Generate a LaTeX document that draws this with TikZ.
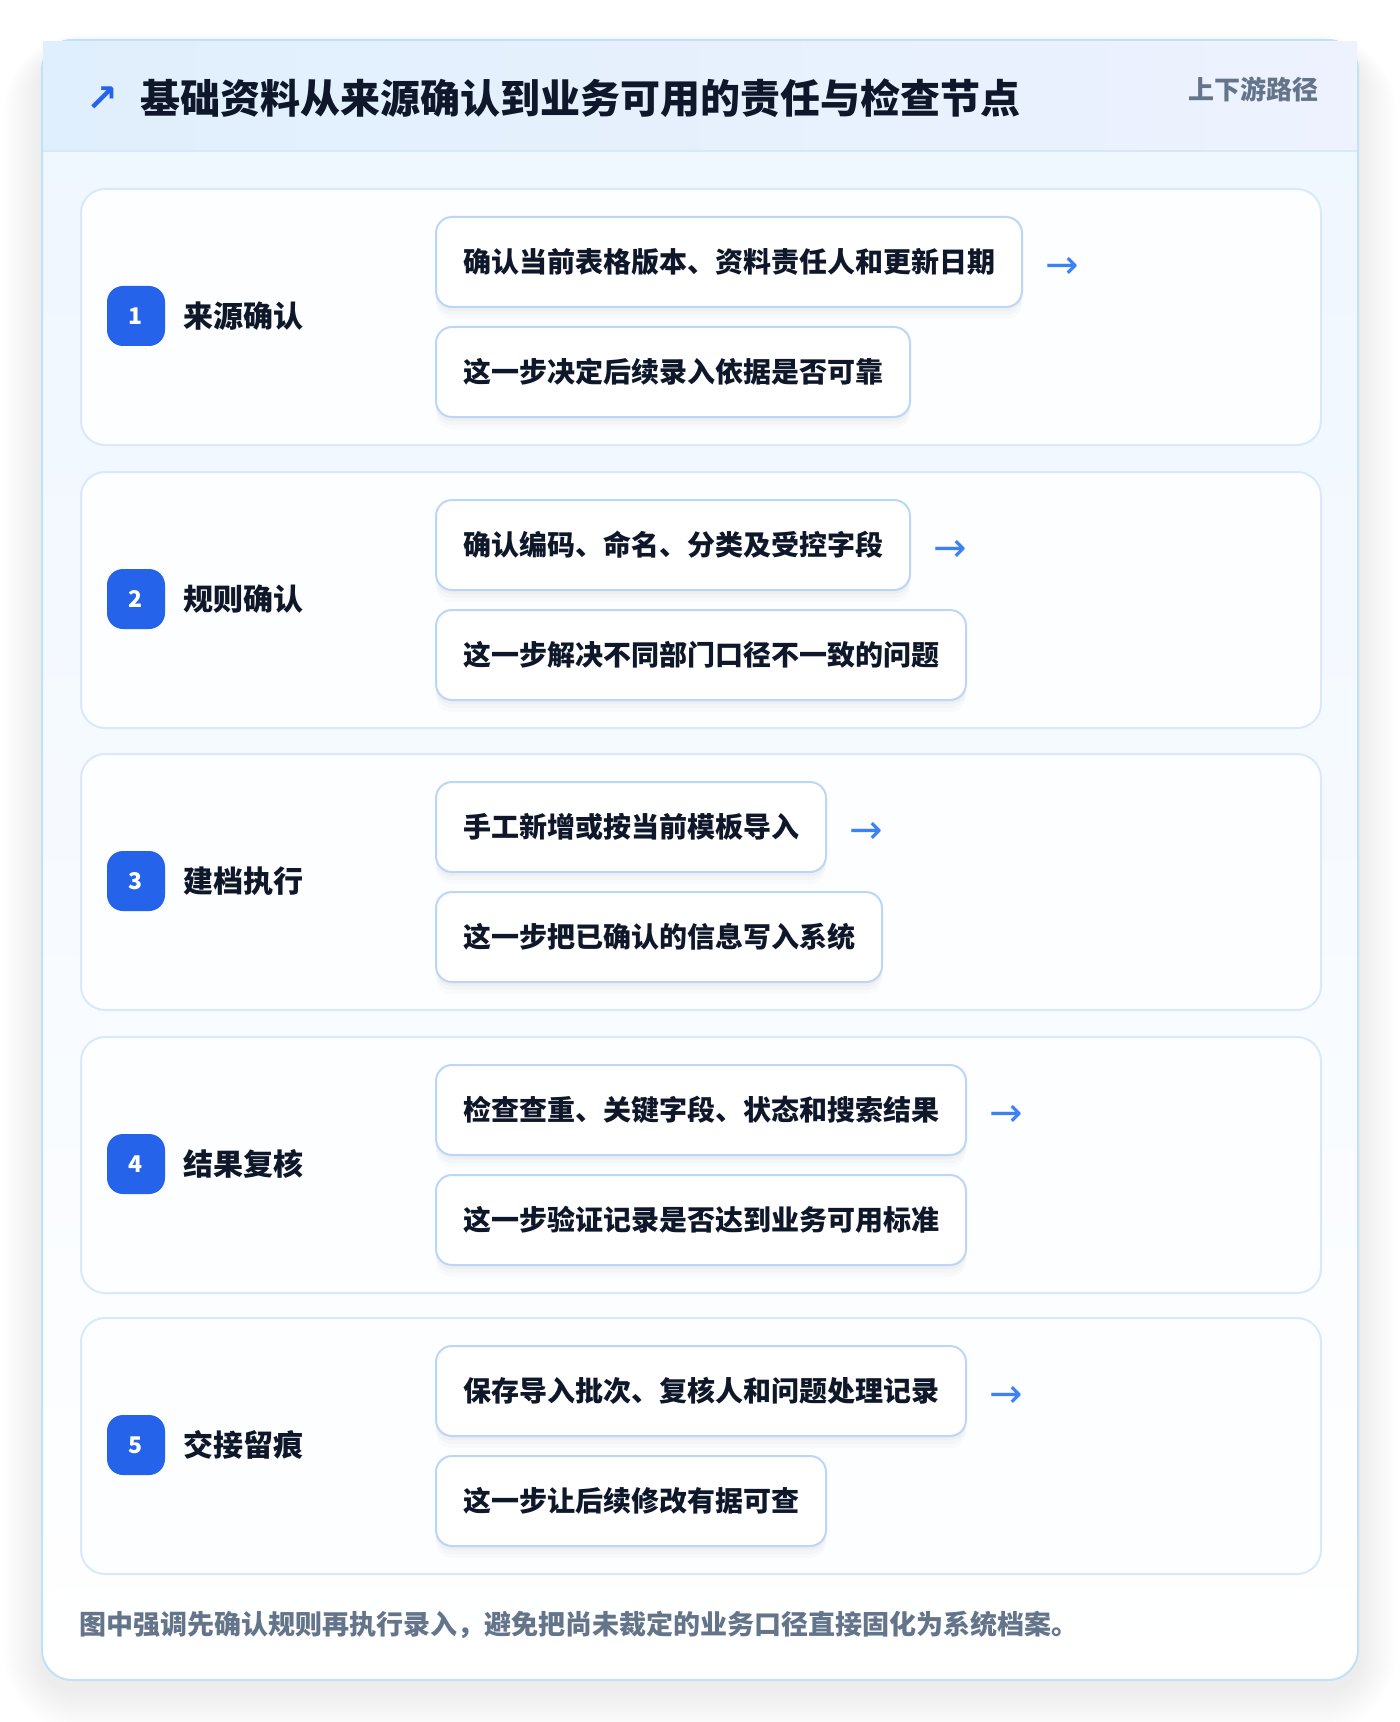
\documentclass[tikz,border=0pt]{standalone}
\usepackage{fontspec}
\setmainfont{Noto Sans CJK SC}
\newfontfamily\symfont{DejaVu Sans}
\usetikzlibrary{shadows}
\definecolor{outerborder}{HTML}{BFE3F5}
\definecolor{bodytop}{HTML}{EEF6FF}
\definecolor{hdrL}{HTML}{E0EFFD}
\definecolor{hdrR}{HTML}{EDF2FE}
\definecolor{hdrline}{HTML}{D6E8FA}
\definecolor{cardborder}{HTML}{D9E9FB}
\definecolor{cardfill}{HTML}{FDFEFF}
\definecolor{boxborder}{HTML}{BCD6F7}
\definecolor{badgeblue}{HTML}{2563EB}
\definecolor{textdark}{HTML}{0F172A}
\definecolor{graytext}{HTML}{64748B}
\definecolor{arrowc}{HTML}{3B82F6}
\tikzset{
  cardbox/.style={draw=cardborder, line width=1pt, fill=cardfill, rounded corners=12pt,
    minimum width=620pt, minimum height=128pt, inner sep=0pt},
  badgebox/.style={fill=badgeblue, rounded corners=8pt, minimum width=29pt, minimum height=30pt,
    inner sep=0pt, text=white, font=\bfseries\fontsize{11.5}{13}\selectfont},
  labtext/.style={text=textdark, font=\bfseries\fontsize{15}{18}\selectfont, inner sep=0pt},
  stepbox/.style={draw=boxborder, line width=1pt, fill=white, rounded corners=8pt,
    minimum height=45pt, inner xsep=13.5pt, inner ysep=0pt, text=textdark,
    font=\bfseries\fontsize{14}{17}\selectfont,
    drop shadow={shadow xshift=0pt, shadow yshift=-2pt, opacity=0.025, fill=black},
    drop shadow={shadow xshift=0pt, shadow yshift=-4pt, opacity=0.02, fill=black},
    drop shadow={shadow xshift=0pt, shadow yshift=-6pt, opacity=0.015, fill=black}},
  arrowglyph/.style={text=arrowc, font=\symfont\fontsize{20}{22}\selectfont, inner sep=0pt}
}
\begin{document}
\begin{tikzpicture}[x=0.5pt,y=-0.5pt]
\useasboundingbox (0,0) rectangle (1400,1722);
\fill[white] (0,0) rectangle (1400,1722);
% outer shadow
\foreach \k in {1,...,18}{
  \pgfmathsetmacro\rr{15+\k*1.5}
  \fill[black,opacity=0.0035,rounded corners=\rr pt] (42-\k*2.2,40-\k*1.2+14) rectangle (1358+\k*2.2,1680+\k*2.4+10);
}
% outer card
\shade[top color=bodytop, bottom color=white, rounded corners=15pt] (42,40) rectangle (1358,1680);
\draw[outerborder, line width=1pt, rounded corners=15pt] (42,40) rectangle (1358,1680);
% header
\shade[left color=hdrL, right color=hdrR] (43,42) rectangle (1357,151);
\draw[hdrline, line width=1pt] (43,151) -- (1357,151);
\node[text=badgeblue, font=\symfont\bfseries\fontsize{19}{20}\selectfont, inner sep=0pt] (icon) at (102,99) {↗};
\node[anchor=west, text=textdark, font=\bfseries\fontsize{20}{24}\selectfont, inner sep=0pt] (title) at (140,98) {基础资料从来源确认到业务可用的责任与检查节点};
\node[anchor=east, text=graytext, font=\bfseries\fontsize{13}{16}\selectfont, inner sep=0pt] (tag) at (1319,89) {上下游路径};
% rows
\foreach \i/\T/\lab/\a/\b in {
  1/188/来源确认/确认当前表格版本、资料责任人和更新日期/这一步决定后续录入依据是否可靠,
  2/471/规则确认/确认编码、命名、分类及受控字段/这一步解决不同部门口径不一致的问题,
  3/753/建档执行/手工新增或按当前模板导入/这一步把已确认的信息写入系统,
  4/1036/结果复核/检查查重、关键字段、状态和搜索结果/这一步验证记录是否达到业务可用标准,
  5/1317/交接留痕/保存导入批次、复核人和问题处理记录/这一步让后续修改有据可查}{
  \node[cardbox, anchor=north west] (card\i) at (80,\T) {};
  \node[badgebox] (badge\i) at (136,\T+128) {\i};
  \node[labtext, anchor=west] (label\i) at (183,\T+128) {\lab};
  \node[stepbox, anchor=west] (boxa\i) at (435,\T+74) {\a};
  \node[stepbox, anchor=west] (boxb\i) at (435,\T+184) {\b};
  \node[arrowglyph, anchor=west] (arrow\i) at ([xshift=11pt,yshift=-3pt]boxa\i.east) {→};
}
% footnote
\node[anchor=west, text=graytext, font=\bfseries\fontsize{13.5}{16}\selectfont, inner sep=0pt] (foot) at (79,1625) {图中强调先确认规则再执行录入，避免把尚未裁定的业务口径直接固化为系统档案。};
\end{tikzpicture}
\end{document}
